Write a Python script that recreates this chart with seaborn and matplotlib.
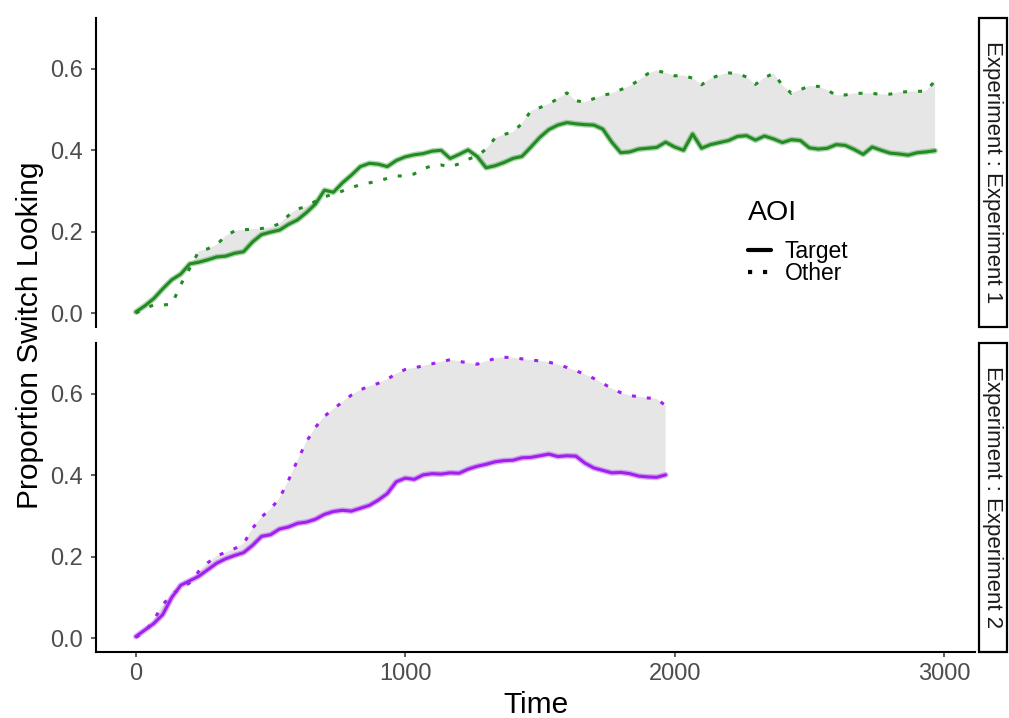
import numpy as np
import pandas as pd
import matplotlib
matplotlib.use("Agg")
import matplotlib.pyplot as plt
from matplotlib.lines import Line2D
from matplotlib.patches import Rectangle
import seaborn as sns

# ---------------- data ----------------
step = 1000 / 30
time_exp1 = np.arange(90) * step
time_exp2 = np.arange(60) * step

target_exp1 = [0.003, 0.018, 0.036, 0.060, 0.082, 0.096, 0.121, 0.125, 0.131, 0.138,
               0.140, 0.147, 0.151, 0.175, 0.193, 0.199, 0.204, 0.218, 0.229, 0.247,
               0.268, 0.302, 0.297, 0.320, 0.339, 0.360, 0.368, 0.366, 0.360, 0.375,
               0.384, 0.389, 0.392, 0.398, 0.400, 0.380, 0.390, 0.401, 0.385, 0.357,
               0.362, 0.370, 0.380, 0.385, 0.408, 0.432, 0.451, 0.462, 0.468, 0.465,
               0.463, 0.462, 0.452, 0.420, 0.394, 0.396, 0.403, 0.405, 0.407, 0.420,
               0.408, 0.400, 0.440, 0.405, 0.414, 0.419, 0.424, 0.434, 0.436, 0.425,
               0.435, 0.428, 0.419, 0.426, 0.424, 0.406, 0.403, 0.405, 0.414, 0.412,
               0.402, 0.390, 0.408, 0.400, 0.393, 0.391, 0.388, 0.394, 0.396, 0.399]
other_exp1 = [0.000, 0.012, 0.020, 0.020, 0.022, 0.070, 0.110, 0.152, 0.158, 0.168,
              0.190, 0.202, 0.205, 0.206, 0.208, 0.211, 0.220, 0.240, 0.256, 0.262,
              0.275, 0.286, 0.292, 0.300, 0.309, 0.315, 0.320, 0.325, 0.331, 0.337,
              0.337, 0.342, 0.355, 0.362, 0.364, 0.359, 0.367, 0.378, 0.386, 0.403,
              0.430, 0.439, 0.445, 0.466, 0.497, 0.505, 0.514, 0.527, 0.541, 0.522,
              0.518, 0.527, 0.535, 0.540, 0.549, 0.558, 0.572, 0.588, 0.596, 0.590,
              0.583, 0.584, 0.577, 0.561, 0.576, 0.585, 0.590, 0.589, 0.580, 0.562,
              0.578, 0.589, 0.560, 0.540, 0.549, 0.558, 0.557, 0.548, 0.535, 0.536,
              0.540, 0.540, 0.540, 0.537, 0.538, 0.543, 0.544, 0.545, 0.545, 0.571]

target_exp2 = [0.004, 0.020, 0.036, 0.058, 0.100, 0.130, 0.141, 0.152, 0.168, 0.184,
               0.195, 0.203, 0.210, 0.228, 0.250, 0.254, 0.268, 0.273, 0.282, 0.285,
               0.292, 0.304, 0.311, 0.314, 0.312, 0.319, 0.326, 0.339, 0.355, 0.384,
               0.393, 0.390, 0.401, 0.404, 0.403, 0.406, 0.405, 0.415, 0.422, 0.427,
               0.433, 0.436, 0.437, 0.443, 0.444, 0.448, 0.452, 0.446, 0.448, 0.447,
               0.430, 0.418, 0.412, 0.406, 0.407, 0.404, 0.398, 0.396, 0.395, 0.401]
other_exp2 = [0.002, 0.015, 0.045, 0.082, 0.108, 0.122, 0.136, 0.164, 0.185, 0.202,
              0.211, 0.220, 0.232, 0.270, 0.298, 0.317, 0.344, 0.388, 0.437, 0.483,
              0.518, 0.545, 0.563, 0.580, 0.597, 0.610, 0.619, 0.626, 0.636, 0.650,
              0.660, 0.664, 0.669, 0.674, 0.679, 0.684, 0.680, 0.676, 0.673, 0.680,
              0.687, 0.690, 0.689, 0.686, 0.683, 0.681, 0.678, 0.672, 0.665, 0.657,
              0.648, 0.638, 0.626, 0.613, 0.603, 0.596, 0.593, 0.590, 0.588, 0.571]

experiments = ["Experiment 1", "Experiment 2"]
aoi_levels = ["Target", "Other"]
panel_colors = ["#228B22", "#A020F0"]
x_ticks = [0, 1000, 2000, 3000]
y_ticks = [0.0, 0.2, 0.4, 0.6]

# ---------------- style ----------------
sns.set_theme(style="white")
plt.rcParams["font.family"] = ["Liberation Sans", "DejaVu Sans"]

W, H = 1009, 718
fig = plt.figure(figsize=(W / 100, H / 100), dpi=100)

def fx(px):
    return px / W

def fy(py):
    return 1 - py / H

left, right = 96, 975
panels_px = [(18, 327), (343, 652)]
axes = []
for (top, bot) in panels_px:
    ax = fig.add_axes([fx(left), fy(bot), fx(right) - fx(left), fy(top) - fy(bot)])
    axes.append(ax)

series = [(time_exp1, target_exp1, other_exp1), (time_exp2, target_exp2, other_exp2)]

for i, ax in enumerate(axes):
    t, tgt, oth = series[i]
    col = panel_colors[i]
    df = pd.DataFrame({
        "Time": np.concatenate([t, t]),
        "Prop": np.concatenate([tgt, oth]),
        "AOI": ["Target"] * len(t) + ["Other"] * len(t),
    })
    tgt_a = np.array(tgt)
    oth_a = np.array(oth)
    ax.fill_between(t, tgt_a, oth_a, where=oth_a >= tgt_a, interpolate=True,
                    color="#E6E6E6", linewidth=0, zorder=1)
    # faint halo around target line
    sns.lineplot(data=df[df.AOI == "Target"], x="Time", y="Prop", ax=ax,
                 color=col, linewidth=4.2, alpha=0.35, legend=False, zorder=2)
    sns.lineplot(data=df, x="Time", y="Prop", style="AOI", ax=ax,
                 style_order=aoi_levels,
                 dashes={"Target": "", "Other": (1.3, 3.6)},
                 color=col, linewidth=2.2, legend=False, zorder=3)
    for ln in ax.get_lines():
        ln.set_dash_capstyle("butt")
        ln.set_solid_capstyle("round")

    ax.set_xlim(-148, 3115)
    ax.set_ylim(-0.034, 0.725)
    ax.set_yticks(y_ticks)
    ax.set_yticklabels([f"{v:.1f}" for v in y_ticks])
    ax.set_xticks(x_ticks)
    ax.set_xlabel("")
    ax.set_ylabel("")
    for s in ["top", "right"]:
        ax.spines[s].set_visible(False)
    ax.spines["left"].set_linewidth(1.5)
    ax.spines["left"].set_color("black")
    ax.tick_params(axis="both", which="both", length=3.6, width=1.1,
                   color="#333333", labelcolor="#4D4D4D", labelsize=17, pad=5.5,
                   left=True, bottom=(i == 1))
    if i == 0:
        ax.spines["bottom"].set_visible(False)
        ax.tick_params(axis="x", labelbottom=False, bottom=False)
    else:
        ax.spines["bottom"].set_linewidth(1.5)
        ax.spines["bottom"].set_color("black")
        ax.set_xticklabels([str(v) for v in x_ticks])
        ax.tick_params(axis="x", pad=4)

    # facet strip on the right
    top, bot = panels_px[i]
    rect = Rectangle((fx(979), fy(bot)), fx(1007) - fx(979), fy(top) - fy(bot),
                     transform=fig.transFigure, facecolor="white",
                     edgecolor="black", linewidth=1.6)
    fig.patches.append(rect)
    fig.text(fx(993), fy((top + bot) / 2), f"Experiment : {experiments[i]}",
             rotation=-90, ha="center", va="center", fontsize=16, color="#1A1A1A")

# legend
handles = [Line2D([], [], color="black", linewidth=3.0),
           Line2D([], [], color="black", linewidth=3.0, linestyle=(0, (1.0, 2.6)),
                  dash_capstyle="butt")]
leg = axes[0].legend(handles, aoi_levels, title="AOI", loc="upper left",
                     bbox_to_anchor=((748 - left) / (right - left), (327 - 200) / (327 - 18)),
                     frameon=False, fontsize=16.5, title_fontsize=20.5,
                     handlelength=1.0, handletextpad=0.6, labelspacing=-0.05,
                     borderpad=0, borderaxespad=0, alignment="left")
leg._legend_box.sep = 10
for txt in leg.get_texts():
    txt.set_color("black")
leg.get_title().set_color("black")

fig.text(fx(30), fy(335), "Proportion Switch Looking", rotation=90,
         ha="center", va="center", fontsize=21.5, color="black")
fig.text(fx((left + right) / 2), fy(705), "Time", ha="center", va="center",
         fontsize=21.5, color="black")

fig.savefig("out.png", dpi=100, facecolor="white")
